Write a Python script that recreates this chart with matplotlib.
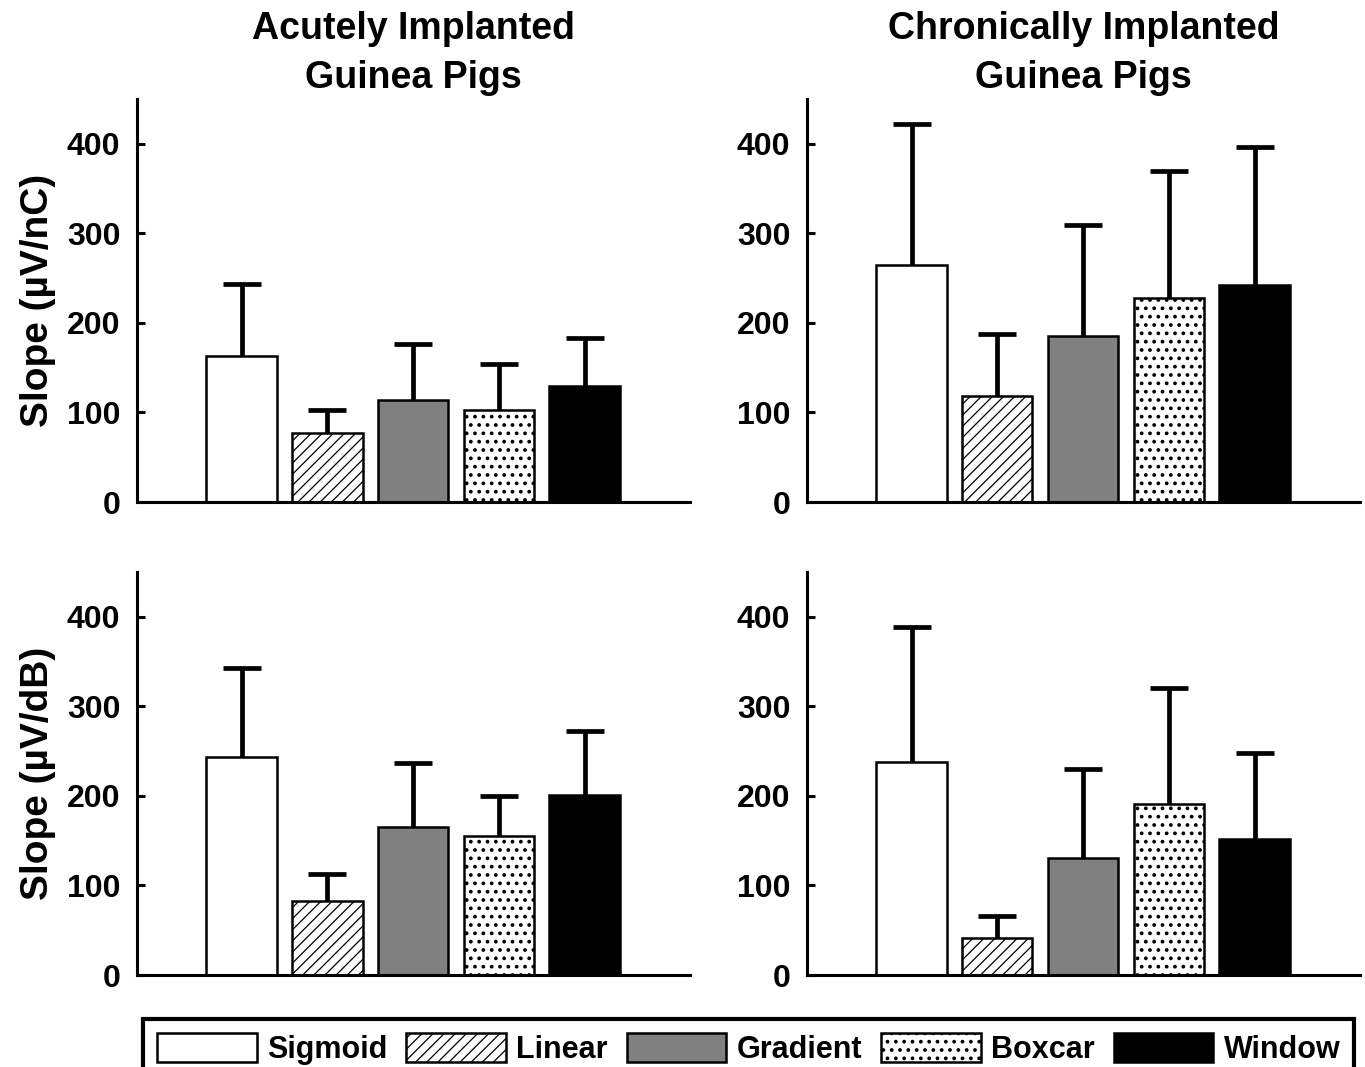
import matplotlib
matplotlib.use('Agg')
import matplotlib.pyplot as plt
import numpy as np

# Methods (legend order) and their styles
methods = ['Sigmoid', 'Linear', 'Gradient', 'Boxcar', 'Window']
face_colors = ['white', 'white', '#808080', 'white', 'black']
hatches = [None, '///', None, '..', None]
hatch_widths = [0.9, 0.9, 0.9, 1.5, 0.9]

# Mean slopes and upper error (SD)
acute_nc = [163, 77, 114, 103, 130]
acute_nc_err = [81, 26, 63, 51, 53]
chronic_nc = [265, 118, 185, 228, 242]
chronic_nc_err = [157, 70, 124, 142, 154]
acute_db = [244, 83, 165, 155, 201]
acute_db_err = [99, 30, 72, 45, 71]
chronic_db = [238, 41, 131, 191, 152]
chronic_db_err = [151, 25, 99, 130, 96]

titles = ['Acutely Implanted\nGuinea Pigs', 'Chronically Implanted\nGuinea Pigs']
ylabels = ['Slope (µV/nC)', 'Slope (µV/dB)']
yticks = [0, 100, 200, 300, 400]

plt.rcParams['font.family'] = ['Liberation Sans', 'DejaVu Sans']
plt.rcParams['font.weight'] = 'bold'
plt.rcParams['hatch.linewidth'] = 0.9

fig = plt.figure(figsize=(13.65, 10.67), dpi=100)

panels = [
    (acute_nc, acute_nc_err, [0.1004, 0.5295, 0.4051, 0.3777]),
    (chronic_nc, chronic_nc_err, [0.5912, 0.5295, 0.4051, 0.3777]),
    (acute_db, acute_db_err, [0.1004, 0.0862, 0.4051, 0.3777]),
    (chronic_db, chronic_db_err, [0.5912, 0.0862, 0.4051, 0.3777]),
]


def set_hatch(patch, h, hw):
    if h:
        patch.set_hatch(h)
        if hasattr(patch, 'set_hatch_linewidth'):
            patch.set_hatch_linewidth(hw)


x = np.arange(1, len(methods) + 1)
handles = None
for i, (vals, errs, rect) in enumerate(panels):
    ax = fig.add_axes(rect)
    bars = ax.bar(x, vals, width=0.82, color=face_colors, edgecolor='black',
                  linewidth=1.8, zorder=2)
    for b, h, hw in zip(bars, hatches, hatch_widths):
        set_hatch(b, h, hw)
    eb = ax.errorbar(x, vals, yerr=[np.zeros(len(errs)), errs], fmt='none',
                     ecolor='black', elinewidth=3.4, capsize=14, capthick=3.4,
                     zorder=1)
    eb.lines[1][0].set_visible(False)  # hide lower caps

    ax.set_xlim(-0.22, 6.23)
    ax.set_ylim(0, 450)
    ax.set_xticks([])
    ax.set_yticks(yticks)
    ax.tick_params(axis='y', direction='in', length=6, width=2.2,
                   labelsize=23, pad=12)
    for s in ['top', 'right']:
        ax.spines[s].set_visible(False)
    for s in ['left', 'bottom']:
        ax.spines[s].set_linewidth(2.2)

    if i < 2:
        ax.set_title(titles[i], fontsize=27, fontweight='bold',
                     linespacing=1.45, pad=8)
    if i % 2 == 0:
        ax.set_ylabel(ylabels[i // 2], fontsize=28, fontweight='bold', labelpad=8)
    if handles is None:
        handles = list(bars)

leg = fig.legend(handles, methods, ncol=5, loc='upper left',
                 bbox_to_anchor=(143 / 1365, 1 - 1019 / 1067),
                 fontsize=22, handlelength=3.27, handleheight=1.1,
                 handletextpad=0.33, columnspacing=0.62, borderpad=0.45,
                 borderaxespad=0, fancybox=False, frameon=True, framealpha=1)
leg.get_frame().set_edgecolor('black')
leg.get_frame().set_linewidth(3)
for p, h, hw in zip(leg.legend_handles, hatches, hatch_widths):
    set_hatch(p, h, hw)

fig.savefig('out.png', dpi=100)
